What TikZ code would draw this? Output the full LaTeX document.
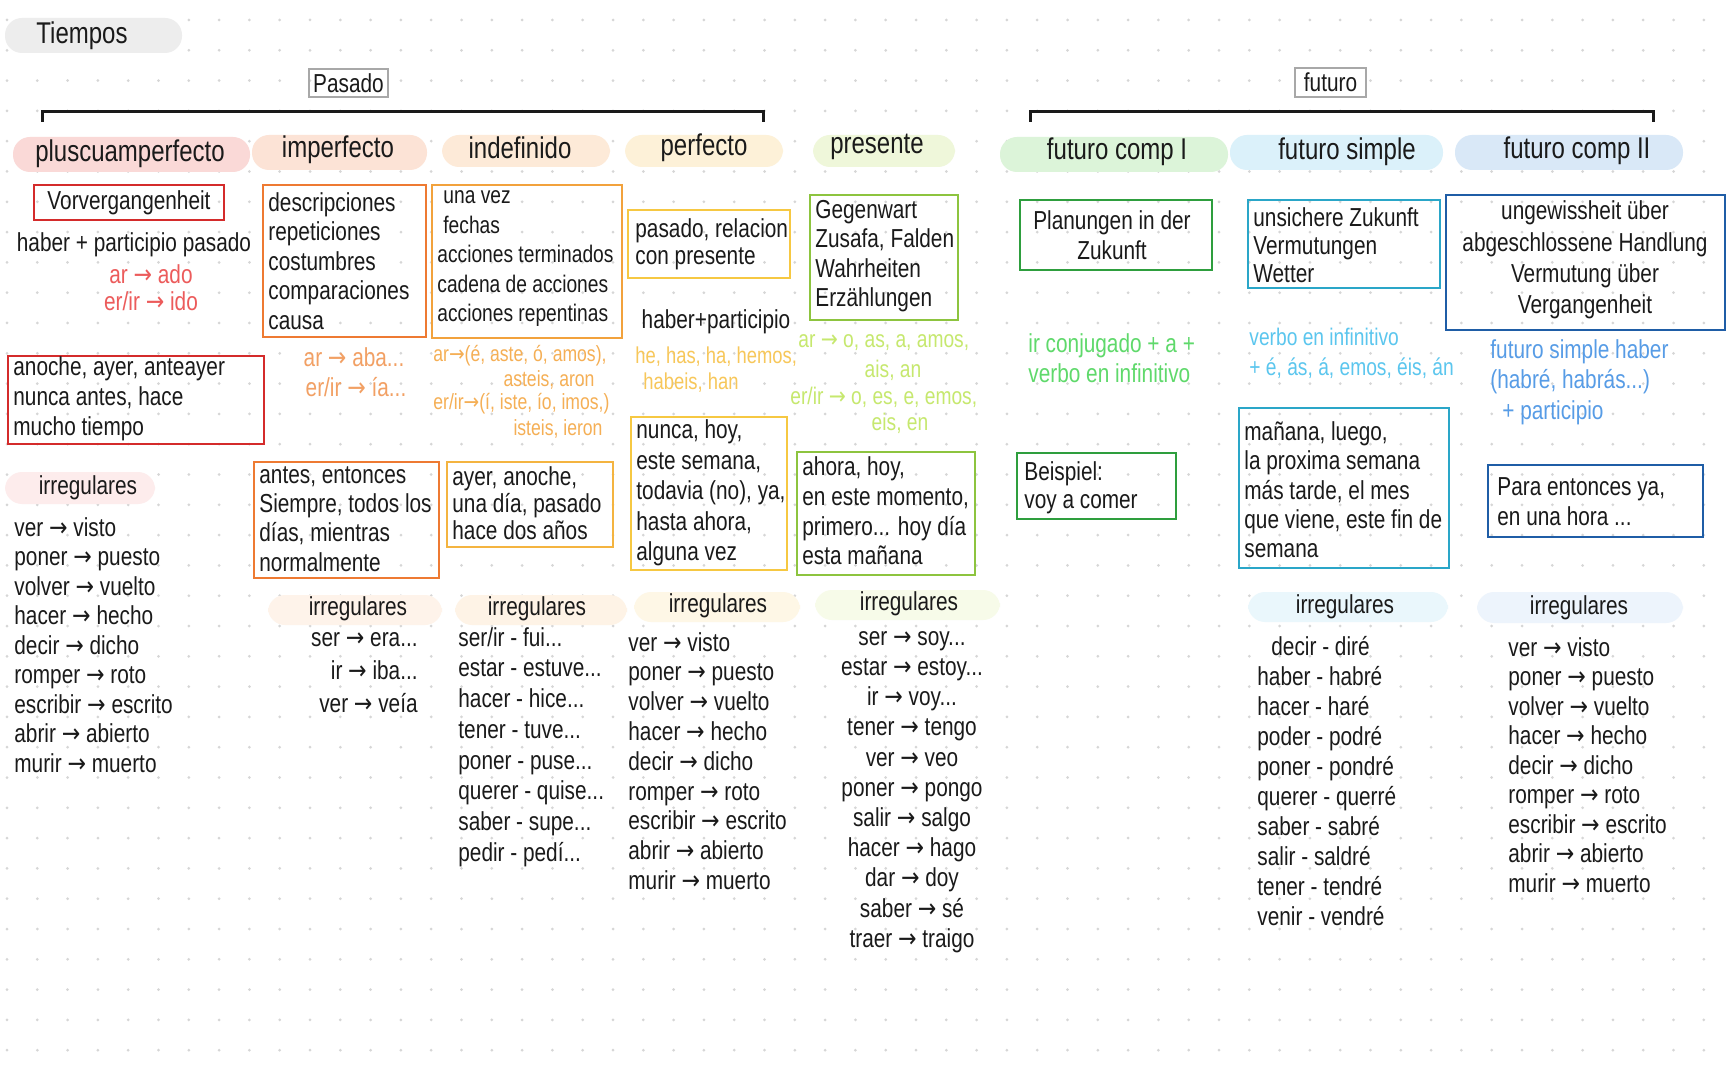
\documentclass[tikz,border=0pt]{standalone}
\usepackage{fontspec}
\setmainfont{Liberation Sans}[FakeStretch=0.8]
\newfontfamily\arrowfont{DejaVu Sans}[FakeStretch=0.85]
\newcommand\arw{{\arrowfont →}}
\usetikzlibrary{fit}
\definecolor{ink}{HTML}{1A1A1A}
\definecolor{dotc}{HTML}{D6D6D6}
\definecolor{pgray}{HTML}{EDEDED}
\definecolor{gline}{HTML}{A8A8A8}
\definecolor{cpl}{HTML}{FAD9D7}
\definecolor{cim}{HTML}{FCE3D6}
\definecolor{cin}{HTML}{FDEAD8}
\definecolor{cpe}{HTML}{FDF1D8}
\definecolor{cpr}{HTML}{EFF7DA}
\definecolor{cfa}{HTML}{DCF4D9}
\definecolor{cfs}{HTML}{DBF1FA}
\definecolor{cfb}{HTML}{D9E8F7}
\definecolor{ia}{HTML}{FDECEC}
\definecolor{ib}{HTML}{FEF3EA}
\definecolor{ic}{HTML}{FEF3E6}
\definecolor{id}{HTML}{FEF7E6}
\definecolor{ie}{HTML}{F7FBE9}
\definecolor{ig}{HTML}{EAF7FC}
\definecolor{ih}{HTML}{EDF4FC}
\definecolor{bred}{HTML}{D42B2B}
\definecolor{bim}{HTML}{EE7A32}
\definecolor{bin}{HTML}{F2A23C}
\definecolor{bintwo}{HTML}{F4B440}
\definecolor{bpe}{HTML}{F6C842}
\definecolor{bpr}{HTML}{8DC43F}
\definecolor{bfa}{HTML}{2E9E3E}
\definecolor{bfs}{HTML}{2AA6C8}
\definecolor{bfb}{HTML}{1F5DA6}
\definecolor{tred}{HTML}{EC5B5B}
\definecolor{tim}{HTML}{F2A064}
\definecolor{tin}{HTML}{F5AF55}
\definecolor{tpe}{HTML}{F7C75A}
\definecolor{tpr}{HTML}{C6E86E}
\definecolor{tfa}{HTML}{5FD96B}
\definecolor{tfs}{HTML}{5BC6EE}
\definecolor{tfb}{HTML}{579CE6}
\newcommand\irrparts{ver \arw{} visto\\poner \arw{} puesto\\volver \arw{} vuelto\\hacer \arw{} hecho\\decir \arw{} dicho\\romper \arw{} roto\\escribir \arw{} escrito\\abrir \arw{} abierto\\murir \arw{} muerto}
\begin{document}
\begin{tikzpicture}[x=0.5pt,y=-0.5pt,
  pill/.style={fill=#1, draw=none, rounded corners=8.5pt, inner sep=0pt},
  boxx/.style={draw=#1, line width=1pt, inner sep=0pt},
  hd/.style={inner sep=0pt, text=ink, font=\fontsize{15}{18}\selectfont},
  tx/.style={inner sep=0pt, align=left, text=ink, font=\fontsize{13}{#1}\selectfont},
  tx/.default=15,
  ts/.style={inner sep=0pt, align=left, font=\fontsize{12}{#1}\selectfont},
  ts/.default=14,
  tt/.style={inner sep=0pt, align=left, font=\fontsize{11}{13}\selectfont},
  bracket/.style={line width=1.5pt, draw=ink}]
\useasboundingbox (0,0) rectangle (1728,1080);
\fill[white] (0,0) rectangle (1728,1080);
\foreach \i in {0,...,56}{\foreach \j in {0,...,34}{\fill[dotc] ({7+30.3*\i},{20+30.3*\j}) circle[radius=0.75pt];}}

% ---------- header ----------
\node[pill=pgray, fit={(5,18) (182,53)}] (ptiempos) {};
\node[hd] (ttiempos) at (82,36) {Tiempos};
\node[boxx=gline, fit={(309,69) (388,97)}] (bpasado) {};
\node[tx] (tpasado) at (bpasado) {Pasado};
\node[boxx=gline, fit={(1295,68) (1366,97)}] (bfuturo) {};
\node[tx] (tfuturo) at (bfuturo) {futuro};
\coordinate (pa1) at (42,122); \coordinate (pa2) at (42,112);
\coordinate (pa3) at (763,112); \coordinate (pa4) at (763,122);
\draw[bracket] (pa1) -- (pa2) -- (pa3) -- (pa4);
\coordinate (fu1) at (1030,122); \coordinate (fu2) at (1030,112);
\coordinate (fu3) at (1653,112); \coordinate (fu4) at (1653,122);
\draw[bracket] (fu1) -- (fu2) -- (fu3) -- (fu4);

\node[pill=cpl, fit={(13,137) (250,172)}] (ppl) {};
\node[hd] (tpl) at (130,154) {pluscuamperfecto};
\node[pill=cim, fit={(252,135) (427,170)}] (pim) {};
\node[hd] (tim) at (338,150) {imperfecto};
\node[pill=cin, fit={(442,135) (610,167)}] (pin) {};
\node[hd] (tin) at (520,148) {indefinido};
\node[pill=cpe, fit={(625,135) (783,167)}] (ppe) {};
\node[hd] (tpe) at (704,148) {perfecto};
\node[pill=cpr, fit={(813,135) (955,167)}] (ppr) {};
\node[hd] (tpr) at (877,147) {presente};
\node[pill=cfa, fit={(1000,137) (1228,172)}] (pfa) {};
\node[hd] (tfa) at (1117,152) {futuro comp I};
\node[pill=cfs, fit={(1230,135) (1443,170)}] (pfs) {};
\node[hd] (tfs) at (1347,152) {futuro simple};
\node[pill=cfb, fit={(1455,135) (1683,170)}] (pfb) {};
\node[hd] (tfb) at (1577,151) {futuro comp II};

% ---------- pluscuamperfecto ----------
\node[boxx=bred, fit={(34,185) (224,220)}] (bvv) {};
\node[tx] (tvv) at (129,203) {Vorvergangenheit};
\node[tx] (thaber) at (134,245) {haber + participio pasado};
\node[tx, text=tred] (tado) at (151,274) {ar \arw{} ado};
\node[tx, text=tred] (tido) at (151,301) {er/ir \arw{} ido};
\node[boxx=bred, fit={(8,356) (264,444)}] (ban) {};
\node[tx, anchor=west] (tan) at (13,399) {anoche, ayer, anteayer\\nunca antes, hace\\mucho tiempo};
\node[pill=ia, fit={(5,472) (155,504)}] (pia) {};
\node[tx] (tia) at (88,488) {irregulares};
\node[tx=14.75, anchor=west] (lia) at (14,645) {\irrparts};

% ---------- imperfecto ----------
\node[tx=14.75, anchor=west] (tima) at (268,261) {descripciones\\repeticiones\\costumbres\\comparaciones\\causa};
\node[boxx=bim, fit={(263,185) (426,337)}] (bima) {};
\node[tx, text=tim] (taba) at (354,357) {ar \arw{} aba...};
\node[tx, text=tim] (tia2) at (356,387) {er/ir \arw{} ía...};
\node[boxx=bim, fit={(254,462) (439,578)}] (bimb) {};
\node[tx=14.65, anchor=west] (timb) at (259,519) {antes, entonces\\Siempre, todos los\\días, mientras\\normalmente};
\node[pill=ib, fit={(268,595) (442,625)}] (pib) {};
\node[tx] (tib) at (358,609) {irregulares};
\node[tx=16.5, anchor=east, align=right] (lib) at (418,673) {ser \arw{} era...\\ir \arw{} iba...\\ver \arw{} veía};

% ---------- indefinido ----------
\node[boxx=bin, fit={(432,185) (622,338)}] (bina) {};
\node[ts=14.75, text=ink, anchor=west] (tina) at (437,259) {\hspace{3pt}una vez\\\hspace{3pt}fechas\\acciones terminados\\cadena de acciones\\acciones repentinas};
\node[tt, text=tin, anchor=west] (tinar) at (433,356) {ar\arw(é, aste, ó, amos),};
\node[tt, text=tin] (tinar2) at (549,380) {asteis, aron};
\node[tt, text=tin, anchor=west] (tiner) at (433,404) {er/ir\arw(í, iste, ío, imos,)};
\node[tt, text=tin] (tiner2) at (558,429) {isteis, ieron};
\node[boxx=bintwo, fit={(447,462) (613,547)}] (binb) {};
\node[tx=13.5, anchor=west] (tinb) at (452,503) {ayer, anoche,\\una día, pasado\\hace dos años};
\node[pill=ic, fit={(455,595) (627,625)}] (pic) {};
\node[tx] (tic) at (537,609) {irregulares};
\node[tx=15.35, anchor=west] (lic) at (458,747) {ser/ir - fui...\\estar - estuve...\\hacer - hice...\\tener - tuve...\\poner - puse...\\querer - quise...\\saber - supe...\\pedir - pedí...};

% ---------- perfecto ----------
\node[boxx=bpe, fit={(628,210) (790,278)}] (bpea) {};
\node[tx=13.5, anchor=west] (tpea) at (635,244) {pasado, relacion\\con presente};
\node[tx] (tpeh) at (716,322) {haber+participio};
\node[tt, text=tpe, anchor=west, font=\fontsize{11.5}{13}\selectfont] (tpe1) at (635,357) {he, has, ha, hemos,};
\node[tt, text=tpe, anchor=west, font=\fontsize{11.5}{13}\selectfont] (tpe2) at (643,383) {habeis, han};
\node[boxx=bpe, fit={(631,417) (787,570)}] (bpeb) {};
\node[tx=15.25, anchor=west] (tpeb) at (636,493) {nunca, hoy,\\este semana,\\todavia (no), ya,\\hasta ahora,\\alguna vez};
\node[pill=id, fit={(634,592) (800,622)}] (pid) {};
\node[tx] (tid) at (718,606) {irregulares};
\node[tx=14.9, anchor=west] (lid) at (628,761) {\irrparts};

% ---------- presente ----------
\node[boxx=bpr, fit={(810,195) (958,320)}] (bpra) {};
\node[tx=14.65, anchor=west] (tpra) at (815,256) {Gegenwart\\Zusafa, Falden\\Wahrheiten\\Erzählungen};
\node[ts, text=tpr, anchor=west] (tpr1) at (798,343) {ar \arw{} o, as, a, amos,};
\node[ts, text=tpr] (tpr2) at (893,370) {ais, an};
\node[ts, text=tpr, anchor=west] (tpr3) at (790,397) {er/ir \arw{} o, es, e, emos,};
\node[ts, text=tpr] (tpr4) at (900,423) {eis, en};
\node[boxx=bpr, fit={(797,452) (975,575)}] (bprb) {};
\node[tx=14.85, anchor=west] (tprb) at (802,511) {ahora, hoy,\\en este momento,\\primero... hoy día\\esta mañana};
\node[pill=ie, fit={(815,590) (1000,620)}] (pie) {};
\node[tx] (tie) at (909,604) {irregulares};
\node[tx=15.1, align=center] (lie) at (912,792) {ser \arw{} soy...\\estar \arw{} estoy...\\ir \arw{} voy...\\tener \arw{} tengo\\ver \arw{} veo\\poner \arw{} pongo\\salir \arw{} salgo\\hacer \arw{} hago\\dar \arw{} doy\\saber \arw{} sé\\traer \arw{} traigo};

% ---------- futuro comp I ----------
\node[boxx=bfa, fit={(1020,200) (1212,270)}] (bfaa) {};
\node[tx, align=center] (tfaa) at (1112,235) {Planungen in der\\Zukunft};
\node[tx, text=tfa, anchor=west] (tfa1) at (1028,358) {ir conjugado + a +\\verbo en infinitivo};
\node[boxx=bfa, fit={(1017,453) (1176,519)}] (bfab) {};
\node[tx=14, anchor=west] (tfab) at (1024,488) {Beispiel:\\voy a comer};

% ---------- futuro simple ----------
\node[boxx=bfs, fit={(1248,200) (1440,288)}] (bfsa) {};
\node[tx=14, anchor=west] (tfsa) at (1253,245) {unsichere Zukunft\\Vermutungen\\Wetter};
\node[tx, text=tfs, anchor=west, font=\fontsize{12}{15}\selectfont] (tfs1) at (1249,353) {verbo en infinitivo\\+ é, ás, á, emos, éis, án};
\node[boxx=bfs, fit={(1239,408) (1449,568)}] (bfsb) {};
\node[tx=14.65, anchor=west] (tfsb) at (1244,490) {mañana, luego,\\la proxima semana\\más tarde, el mes\\que viene, este fin de\\semana};
\node[pill=ig, fit={(1248,592) (1448,622)}] (pig) {};
\node[tx] (tig) at (1345,607) {irregulares};
\node[tx=15.05, anchor=west] (lig) at (1257,781) {\hspace{7pt}decir - diré\\haber - habré\\hacer - haré\\poder - podré\\poner - pondré\\querer - querré\\saber - sabré\\salir - saldré\\tener - tendré\\venir - vendré};

% ---------- futuro comp II ----------
\node[boxx=bfb, fit={(1446,195) (1725,330)}] (bfba) {};
\node[tx=15.6, align=center] (tfba) at (1585,260) {ungewissheit über\\abgeschlossene Handlung\\Vermutung über\\Vergangenheit};
\node[tx=15.25, text=tfb, anchor=west] (tfb1) at (1490,382) {futuro simple haber\\(habré, habrás...)\\\hspace{6pt}+ participio};
\node[boxx=bfb, fit={(1488,465) (1703,537)}] (bfbb) {};
\node[tx, anchor=west] (tfbb) at (1497,502) {Para entonces ya,\\en una hora ...};
\node[pill=ih, fit={(1477,592) (1683,623)}] (pih) {};
\node[tx] (tih) at (1579,608) {irregulares};
\node[tx=14.75, anchor=west] (lih) at (1508,765) {\irrparts};
\end{tikzpicture}
\end{document}
